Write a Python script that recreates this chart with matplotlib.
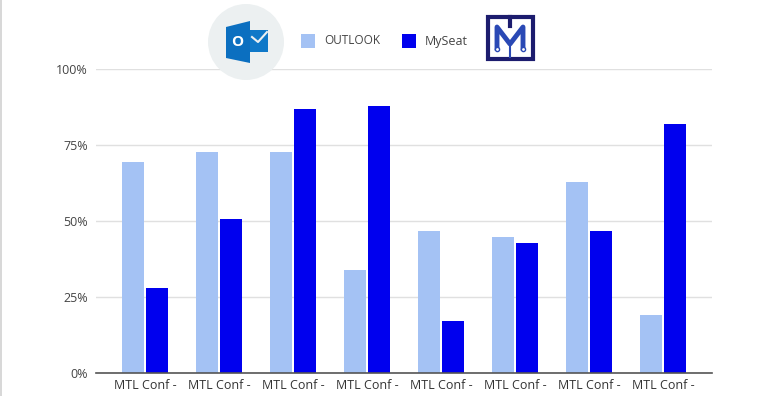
import numpy as np
import matplotlib
matplotlib.use('Agg')
import matplotlib.pyplot as plt
from matplotlib.patches import Circle, Polygon, Rectangle

plt.rcParams['font.family'] = ['Open Sans', 'DejaVu Sans']

categories = ['MTL Conf -'] * 8
outlook = [69.5, 72.7, 72.7, 33.9, 46.7, 44.7, 62.8, 19]
myseat = [28, 50.8, 86.8, 87.8, 17, 42.8, 46.7, 81.8]
ticks = [0, 25, 50, 75, 100]
tick_labels = ['0%', '25%', '50%', '75%', '100%']

W, H = 768, 396
light = '#a4c2f4'
blue = '#0000ee'
text_col = '#444444'

fig = plt.figure(figsize=(W / 100, H / 100), dpi=100)
ax = fig.add_axes([96 / W, 1 - 373 / H, (712 - 96) / W, (373 - 69) / H])

# bars
x = np.arange(len(categories))
ax.bar(x - 0.162, outlook, width=0.297, color=light, zorder=3)
ax.bar(x + 0.162, myseat, width=0.297, color=blue, zorder=3)

ax.set_xlim(-0.662, 7.662)
ax.set_ylim(0, 100)
ax.set_yticks(ticks)
ax.set_yticklabels(tick_labels, fontsize=9, color=text_col)
ax.set_xticks(x)
ax.set_xticklabels(categories, fontsize=9, color='#333333')
ax.tick_params(axis='both', length=0)
ax.tick_params(axis='x', pad=4)
ax.tick_params(axis='y', pad=6)
ax.grid(axis='y', color='#e0e0e0', linewidth=1, zorder=0)
for s in ['top', 'right', 'left']:
    ax.spines[s].set_visible(False)
ax.spines['bottom'].set_color('#555555')
ax.spines['bottom'].set_linewidth(1.2)
ax.spines['bottom'].set_zorder(4)

# overlay in pixel coordinates for legend and logos
ov = fig.add_axes([0, 0, 1, 1], zorder=5)
ov.set_xlim(0, W)
ov.set_ylim(H, 0)
ov.axis('off')

# page edge
ov.add_patch(Rectangle((0, 0), 1.5, H, color='#d8d8d8', lw=0))

# legend
ov.add_patch(Rectangle((301, 34), 14, 14, color=light, lw=0))
ov.text(324, 41, 'OUTLOOK', fontsize=8.5, color=text_col, va='center')
ov.add_patch(Rectangle((402, 34), 14, 14, color=blue, lw=0))
ov.text(425, 41, 'MySeat', fontsize=9, color=text_col, va='center')

# outlook logo
ov.add_patch(Circle((246, 42), 38, color='#ecf0f1', lw=0))
ov.add_patch(Rectangle((250, 30), 18, 22, color='#0f78c8', lw=0))
ov.plot([252, 258, 267], [37, 42, 32], color='#ecf0f1', lw=1.5)
ov.add_patch(Polygon([[226, 27], [250, 21], [250, 63], [226, 58]], color='#0b6fc0', lw=0))
ov.text(237, 42, 'O', fontsize=11, color='white', weight='bold', ha='center', va='center')

# myseat logo
ov.add_patch(Rectangle((487.5, 17), 45, 42, fill=False, ec='#1c1c6e', lw=3))
ov.plot([497, 497, 510, 523, 523], [48, 27, 44, 27, 48], color='#2a49b5', lw=3.5)
ov.plot([510, 510], [17, 26], color='#1c1c6e', lw=3)
ov.plot([510, 510], [44, 57], color='#2a49b5', lw=1.5)
ov.plot([497, 523], [49, 49], ls='none', marker='o', ms=3, mfc='white', mec='#2a49b5')

fig.savefig('out.png', dpi=100)
